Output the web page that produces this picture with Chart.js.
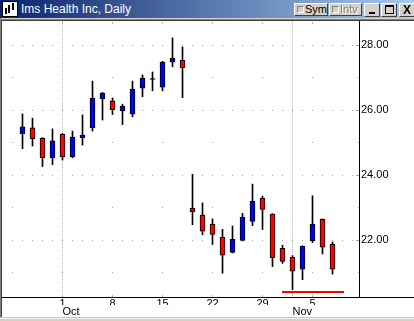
<!DOCTYPE html>
<html>
<head>
<meta charset="utf-8">
<script src="https://cdn.jsdelivr.net/npm/chart.js@4.4.0/dist/chart.umd.min.js"></script>
<style>
body { margin: 0; width: 414px; height: 321px; overflow: hidden; background: #fff; position: relative; font-family: "Liberation Sans", Arial, sans-serif; }
#title { position: absolute; left: 0; top: 0; width: 414px; height: 18px; background: linear-gradient(to right, #0a246a, #a6caf0); }
#title .txt { position: absolute; left: 21px; top: 2px; color: #fff; font-size: 12px; line-height: 14px; white-space: nowrap; }
#icon { position: absolute; left: 2px; top: 1px; width: 14px; height: 14px; border: 1px solid #000; background: #fff; }
#icon i { position: absolute; width: 2px; background: #000; }
.btn { position: absolute; top: 3px; height: 13px; box-sizing: border-box; background: #d4d0c8; border: 1px solid; border-color: #fff #404040 #404040 #fff; font-size: 11px; line-height: 11px; color: #000; }
.chk { position: absolute; left: 2px; top: 2px; width: 7px; height: 7px; box-sizing: border-box; border: 1px solid; border-color: #808080 #fff #fff #808080; background: #d4d0c8; }
.btn .lbl { position: absolute; left: 10px; top: 0; }
.dis { color: #808080; text-shadow: 1px 1px 0 #fff; }
#bar1 { position: absolute; left: 0; top: 18px; width: 414px; height: 1px; background: #d4d0c8; }
#bar2 { position: absolute; left: 0; top: 19px; width: 414px; height: 1px; background: #808080; }
#bar3 { position: absolute; left: 0; top: 20px; width: 414px; height: 1px; background: #404040; }
#lb1 { position: absolute; left: 0; top: 18px; width: 1px; height: 299px; background: #808080; }
#lb2 { position: absolute; left: 1px; top: 20px; width: 1px; height: 297px; background: #404040; }
#bottom { position: absolute; left: 0; top: 317px; width: 414px; height: 4px; background: #d4d0c8; border-top: 1px solid #c8c4bc; box-sizing: border-box; }
#bottom i { position: absolute; left: 0; top: 0; width: 414px; height: 1px; background: #f4f4f0; }
#wrap { position: absolute; left: 0; top: 20px; width: 414px; height: 297px; }
</style>
</head>
<body>
<div id="wrap"><canvas id="chart" width="414" height="297"></canvas></div>
<div id="title">
  <div id="icon"><i style="left:2px;top:6px;height:6px"></i><i style="left:5px;top:3px;height:8px"></i><i style="left:9px;top:1px;height:7px"></i></div>
  <div class="txt">Ims Health Inc, Daily</div>
  <div class="btn" style="left:294px;width:34px"><div class="chk"></div><span class="lbl">Sym</span></div>
  <div class="btn" style="left:329px;width:33px"><div class="chk"></div><span class="lbl dis">Intv</span></div>
  <div class="btn" style="left:364px;width:16px;height:14px"><div style="position:absolute;left:4px;top:8px;width:6px;height:2px;background:#000"></div></div>
  <div class="btn" style="left:381px;width:16px;height:14px"><div style="position:absolute;left:3px;top:1px;width:9px;height:9px;box-sizing:border-box;border:1px solid #000;border-top-width:2px"></div></div>
  <div class="btn" style="left:399px;width:16px;height:14px;font-size:12px;line-height:12px;text-align:center;font-weight:bold">X</div>
</div>
<div id="bar1"></div><div id="bar2"></div><div id="bar3"></div>
<div id="lb1"></div><div id="lb2"></div>
<div id="bottom"><i></i></div>
<script>
// Sep 25 .. Nov 7, one entry per trading day
const openPrices  = [25.27, 25.45, 25.13, 24.53, 25.25, 24.56, 25.15, 25.46, 26.35, 26.28, 25.98, 25.87, 26.67, 26.94, 26.70, 27.47, 27.53,
                     22.98, 22.77, 22.49, 22.08, 21.62, 21.99, 22.57, 23.28, 22.80, 21.74, 21.47, 21.10, 21.98, 22.64, 21.87];
const highPrices  = [25.88, 25.75, 25.15, 25.42, 25.28, 25.35, 25.85, 26.89, 26.54, 26.37, 26.18, 26.89, 27.08, 27.17, 27.50, 28.22, 27.94,
                     24.02, 23.14, 22.65, 22.33, 22.43, 22.82, 23.72, 23.35, 22.81, 21.84, 21.52, 21.82, 23.36, 22.65, 21.94];
const lowPrices   = [24.81, 24.89, 24.26, 24.32, 24.46, 24.53, 24.92, 25.35, 25.69, 25.86, 25.55, 25.79, 26.41, 26.59, 26.59, 27.33, 26.38,
                     22.47, 22.16, 21.86, 20.98, 21.60, 21.97, 22.44, 22.32, 21.18, 21.28, 20.47, 20.78, 21.92, 21.57, 20.95];
const closePrices = [25.48, 25.12, 24.53, 25.05, 24.56, 25.17, 25.23, 26.36, 26.52, 26.01, 26.12, 26.64, 26.98, 26.97, 27.47, 27.59, 27.30,
                     22.87, 22.27, 22.17, 21.53, 22.02, 22.70, 23.19, 22.94, 21.46, 21.34, 21.04, 21.81, 22.49, 21.78, 21.10];

const dayTickIdx = [4, 9, 14, 19, 24, 29];
const dayTickLabels = ['1', '8', '15', '22', '29', '5'];
const monthTickIdx = [4, 27];
const monthTickLabels = ['Oct', 'Nov'];
const priceTicks = [22, 24, 26, 28];
const minorPriceTicks = [21, 23, 25, 27];
const supportX = [25.95, 32.15];
const supportY = [20.40, 20.40];

const UP = '#0000ff';
const DOWN = '#ff0000';

const bodyData = openPrices.map((o, i) => ({ x: i, y: [o, closePrices[i]] }));
const wickData = lowPrices.map((l, i) => ({ x: i, y: [l, highPrices[i]] }));
const bodyColors = openPrices.map((o, i) => closePrices[i] >= o ? UP : DOWN);

const gridDots = {
	id: 'gridDots',
	beforeDatasetsDraw(chart) {
		const { ctx, chartArea: a, scales: { x, y } } = chart;
		ctx.save();
		ctx.fillStyle = '#a0a0a0';
		priceTicks.concat(minorPriceTicks).forEach(v => {
			const py = Math.round(y.getPixelForValue(v));
			const major = priceTicks.includes(v);
			for (let k = -1; k <= 34; k++) {
				if (!major && (k + 1) % 5 !== 0) continue;
				const px = Math.floor(x.getPixelForValue(k));
				if (px > a.left && px < a.right - 4) ctx.fillRect(px, py, 1, 1);
			}
			if (major) ctx.fillRect(a.right - 3, py, 3, 1);
			else ctx.fillRect(a.right - 1, py, 1, 1);
		});
		ctx.fillStyle = '#b4b4b4';
		monthTickIdx.forEach(k => {
			const px = Math.floor(x.getPixelForValue(k));
			for (let py = Math.ceil(a.top); py < a.bottom; py += 2) ctx.fillRect(px, py, 1, 1);
		});
		dayTickIdx.forEach(k => {
			const px = Math.floor(x.getPixelForValue(k));
			ctx.fillRect(px, a.top + 1, 1, 2);
			ctx.fillRect(px, a.bottom - 2, 1, 2);
		});
		ctx.restore();
	},
	afterDraw(chart) {
		const { ctx, chartArea: a } = chart;
		ctx.save();
		ctx.fillStyle = '#000';
		ctx.fillRect(0, Math.round(a.bottom), chart.width, 1);
		ctx.restore();
	}
};

const tickFont = { family: '"Liberation Sans", Arial, sans-serif', size: 11 };

function noPad(s) {
	s.paddingLeft = 0;
	s.paddingRight = 0;
	s.paddingTop = 0;
	s.paddingBottom = 0;
}

new Chart(document.getElementById('chart'), {
	type: 'bar',
	data: {
		datasets: [{
			type: 'line',
			data: supportX.map((x, i) => ({ x: x, y: supportY[i] })),
			borderColor: DOWN,
			borderWidth: 2,
			pointRadius: 0,
			order: -1,
		}, {
			data: bodyData,
			backgroundColor: bodyColors,
			borderColor: '#000',
			borderWidth: 1,
			borderSkipped: false,
			barThickness: 5,
			grouped: false,
			order: 0,
		}, {
			data: wickData,
			backgroundColor: '#000',
			borderWidth: 0,
			barThickness: 1,
			grouped: false,
			order: 1,
		}]
	},
	options: {
		responsive: false,
		animation: false,
		layout: { padding: { left: 3, top: 1, right: 0, bottom: 0 } },
		plugins: { legend: { display: false }, tooltip: { enabled: false } },
		scales: {
			x: {
				type: 'linear',
				position: 'bottom',
				offset: false,
				min: -1.95,
				max: 33.65,
				grid: { display: false, drawTicks: false, offset: false },
				border: { display: true, color: '#000', width: 1 },
				ticks: {
					padding: 0,
					color: '#000',
					font: tickFont,
					maxRotation: 0,
					autoSkip: false,
					callback: v => dayTickLabels[dayTickIdx.indexOf(v)] ?? ''
				},
				afterBuildTicks: s => { s.ticks = dayTickIdx.map(v => ({ value: v })); },
				afterFit: s => { s.height = 8; noPad(s); }
			},
			xm: {
				type: 'linear',
				axis: 'x',
				position: 'bottom',
				offset: false,
				min: -1.95,
				max: 33.65,
				grid: { display: false, drawTicks: false, offset: false },
				border: { display: false },
				ticks: {
					padding: 0,
					color: '#000',
					font: tickFont,
					align: 'start',
					maxRotation: 0,
					autoSkip: false,
					callback: v => monthTickLabels[monthTickIdx.indexOf(v)] ?? ''
				},
				afterBuildTicks: s => { s.ticks = monthTickIdx.map(v => ({ value: v })); },
				afterFit: s => { s.height = 12; noPad(s); }
			},
			y: {
				type: 'linear',
				position: 'right',
				min: 20.246,
				max: 28.7385,
				grid: { display: false, drawTicks: false },
				border: { display: true, color: '#000', width: 1 },
				ticks: {
					padding: 2,
					color: '#000',
					font: tickFont,
					callback: v => v.toFixed(2)
				},
				afterBuildTicks: s => { s.ticks = priceTicks.map(v => ({ value: v })); },
				afterFit: s => { s.width = 55; noPad(s); }
			}
		}
	},
	plugins: [gridDots]
});
</script>
</body>
</html>
